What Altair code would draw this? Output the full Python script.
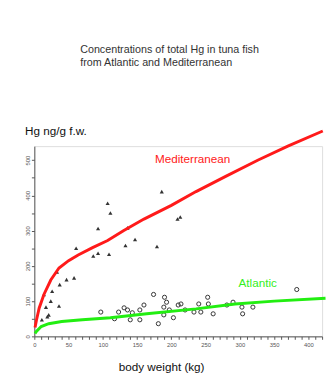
import altair as alt
import pandas as pd

# Mediterranean samples (triangles): body weight kg, Hg ng/g
med_x = [186, 107, 111, 93, 136, 61, 147, 133, 179, 86, 93, 109, 209, 213, 33, 37, 47, 58, 26, 14, 24, 17, 19, 36, 11, 21]
med_y = [411, 378, 350, 306, 308, 250, 275, 258, 255, 228, 236, 233, 333, 339, 183, 147, 161, 166, 128, 119, 100, 83, 56, 86, 47, 61]

# Atlantic samples (circles)
atl_x = [97, 123, 117, 131, 136, 140, 143, 154, 154, 160, 181, 189, 190, 193, 189, 197, 203, 210, 214, 220, 174,
         233, 240, 243, 253, 254, 261, 281, 290, 303, 304, 319, 383]
atl_y = [69, 69, 50, 81, 75, 47, 67, 75, 47, 89, 36, 83, 111, 97, 61, 75, 53, 89, 92, 75, 119,
         69, 92, 69, 111, 92, 64, 89, 97, 83, 64, 83, 133]

# Fitted curves
med_cx = [1, 3, 7, 14, 24, 36, 50, 64, 85, 107, 130, 160, 200, 236, 280, 326, 370, 421]
med_cy = [25, 45, 80, 119, 160, 194, 215, 231, 252, 272, 300, 333, 372, 411, 455, 500, 540, 583]
atl_cx = [1, 3, 10, 21, 40, 70, 111, 164, 236, 293, 350, 425]
atl_cy = [8, 14, 28, 36, 42, 47, 53, 64, 78, 92, 100, 108]

x_ticks = list(range(0, 421, 10))
y_ticks = list(range(0, 541, 50))

med_pts = pd.DataFrame({"x": med_x, "y": med_y})
atl_pts = pd.DataFrame({"x": atl_x, "y": atl_y})
med_curve = pd.DataFrame({"x": med_cx, "y": med_cy, "o": range(len(med_cx))})
atl_curve = pd.DataFrame({"x": atl_cx, "y": atl_cy, "o": range(len(atl_cx))})
labels = pd.DataFrame({"x": [231, 326], "y": [502, 150], "t": ["Mediterranean", "Atlantic"], "c": ["#ff2020", "#33ee22"]})

FONT = "Liberation Sans"

xs = alt.X("x:Q", scale=alt.Scale(domain=[0, 420], nice=False),
           axis=alt.Axis(values=x_ticks, labelExpr="datum.value % 50 == 0 ? datum.label : ''",
                         labelOverlap=False, labelFlush=False, labelBound=False,
                         grid=False, tickSize=3, labelFontSize=6, labelColor="#555", labelPadding=2,
                         domainColor="#555", tickColor="#555", title="body weight (kg)",
                         titleFontSize=12, titleFont=FONT, titleFontWeight="normal", titleColor="#111",
                         titleY=35, titleX=130, titleAlign="center", titleBaseline="alphabetic"))
ys = alt.Y("y:Q", scale=alt.Scale(domain=[0, 540], nice=False),
           axis=alt.Axis(values=y_ticks, labelExpr="datum.value % 100 == 0 ? datum.label : ''",
                         labelOverlap=False, labelFlush=False, labelBound=False,
                         grid=False, tickSize=3, labelFontSize=6, labelColor="#555", labelAngle=-90,
                         labelAlign="center", labelBaseline="bottom", labelPadding=1,
                         domainColor="#555", tickColor="#555", title="Hg ng/g f.w.",
                         titleFontSize=12, titleFont=FONT, titleFontWeight="normal", titleColor="#111",
                         titleAngle=0, titleX=-10, titleY=-12, titleAlign="left", titleBaseline="alphabetic"))

tri = alt.Chart(med_pts).mark_point(shape="triangle-up", filled=True, size=18, color="#333", opacity=1).encode(x=xs, y=ys)
circ = alt.Chart(atl_pts).mark_point(shape="circle", filled=False, size=18, color="#333", strokeWidth=1, opacity=1).encode(x=xs, y=ys)
mline = alt.Chart(med_curve).mark_line(color="#ff1a1a", strokeWidth=3).encode(x=xs, y=ys, order="o:Q")
aline = alt.Chart(atl_curve).mark_line(color="#22ee11", strokeWidth=3).encode(x=xs, y=ys, order="o:Q")
txt = alt.Chart(labels).mark_text(fontSize=12, font=FONT, align="center", baseline="middle").encode(
    x=xs, y=ys, text="t:N", color=alt.Color("c:N", scale=None))

chart = alt.layer(tri, circ, aline, mline, txt).properties(
    width=295, height=195,
    autosize=alt.AutoSizeParams(type="none"),
    padding={"left": 27, "top": 137, "right": 4, "bottom": 36},
    title=alt.TitleParams(["Concentrations of total Hg in tuna fish", "from Atlantic and Mediterranean"],
                          anchor="start", frame="group", dx=47, offset=58, fontSize=11, font=FONT,
                          fontWeight="normal", color="#333", lineHeight=14),
).configure_view(stroke=None).configure(background="white")

chart.save("out.html", embed_options={"renderer": "svg", "actions": False})
